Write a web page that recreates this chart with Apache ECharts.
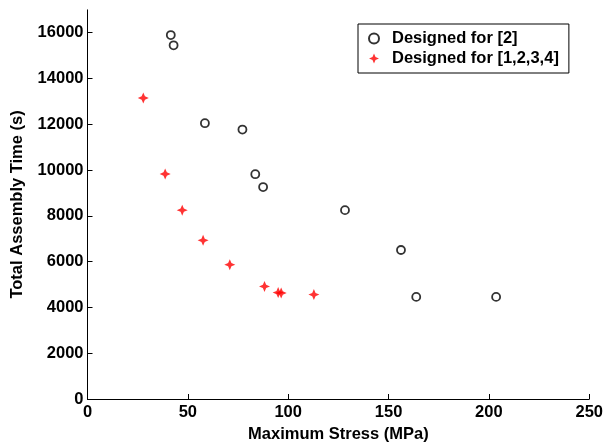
<!DOCTYPE html>
<html>
<head>
<meta charset="utf-8">
<script src="https://cdn.jsdelivr.net/npm/echarts@6/dist/echarts.min.js"></script>
<style>
  html, body { margin: 0; padding: 0; background: #fff; }
  #chart { width: 606px; height: 448px; }
</style>
</head>
<body>
<div id="chart"></div>
<script>
// Designs optimised for a single case [2]
const stressSingle = [41.5, 42.9, 58.5, 77.2, 83.6, 87.5, 128.3, 156.2, 163.8, 203.6];
const timeSingle   = [15900, 15450, 12050, 11770, 9820, 9260, 8250, 6510, 4460, 4460];

// Designs optimised for all cases [1,2,3,4]
const stressAll = [27.8, 38.7, 47.2, 57.6, 70.9, 88.2, 95.0, 96.5, 112.8];
const timeAll   = [13150, 9830, 8250, 6930, 5870, 4920, 4650, 4630, 4560];

const seriesNames = ['Designed for [2]', 'Designed for [1,2,3,4]'];
const xTicks = [0, 50, 100, 150, 200, 250];
const yTicks = [0, 2000, 4000, 6000, 8000, 10000, 12000, 14000, 16000];

const FONT = 'Liberation Sans, Arial, Helvetica, sans-serif';
const starPath = 'path://M5,0 L6.5,3.5 L10,5 L6.5,6.5 L5,10 L3.5,6.5 L0,5 L3.5,3.5 Z';

const pairs = (xs, ys) => xs.map((x, i) => [x, ys[i]]);

const chart = echarts.init(document.getElementById('chart'), null, { renderer: 'canvas' });

const textBase = { color: '#000', fontFamily: FONT, fontSize: 16.5, fontWeight: 'bold' };

chart.setOption({
  animation: false,
  backgroundColor: '#fff',
  grid: { left: 87.5, right: 16, top: 9.85, bottom: 44.7, containLabel: false },
  xAxis: {
    type: 'value',
    min: 0, max: 250, interval: 50,
    name: 'Maximum Stress (MPa)',
    nameLocation: 'middle',
    nameGap: 27,
    nameTextStyle: textBase,
    axisLine: { lineStyle: { color: '#000', width: 1 } },
    axisTick: { inside: true, length: 5, lineStyle: { color: '#000' }, customValues: xTicks },
    axisLabel: Object.assign({ margin: 5, customValues: xTicks, formatter: v => String(v) }, textBase),
    splitLine: { show: false }
  },
  yAxis: {
    type: 'value',
    min: 0, max: 17000, interval: 1000,
    name: 'Total Assembly Time (s)',
    nameLocation: 'middle',
    nameGap: 62,
    nameTextStyle: textBase,
    axisLine: { lineStyle: { color: '#000', width: 1 } },
    axisTick: { inside: true, length: 5, lineStyle: { color: '#000' }, customValues: yTicks },
    axisLabel: Object.assign({ margin: 4, customValues: yTicks, formatter: v => String(v) }, textBase),
    splitLine: { show: false }
  },
  legend: {
    orient: 'vertical',
    left: 358, top: 24,
    padding: [6, 10, 6, 10],
    itemGap: 3,
    itemWidth: 10, itemHeight: 10,
    borderColor: '#000', borderWidth: 1,
    backgroundColor: '#fff',
    textStyle: Object.assign({ padding: [0, 0, 0, 8] }, textBase),
    data: seriesNames
  },
  series: [
    {
      name: seriesNames[0],
      type: 'scatter',
      symbol: 'circle',
      symbolSize: 8,
      itemStyle: { color: 'rgba(0,0,0,0)', borderColor: '#000', borderWidth: 1.8 },
      data: pairs(stressSingle, timeSingle)
    },
    {
      name: seriesNames[1],
      type: 'scatter',
      symbol: starPath,
      symbolSize: 11,
      itemStyle: { color: '#ff0000' },
      data: pairs(stressAll, timeAll)
    }
  ]
});
</script>
</body>
</html>
